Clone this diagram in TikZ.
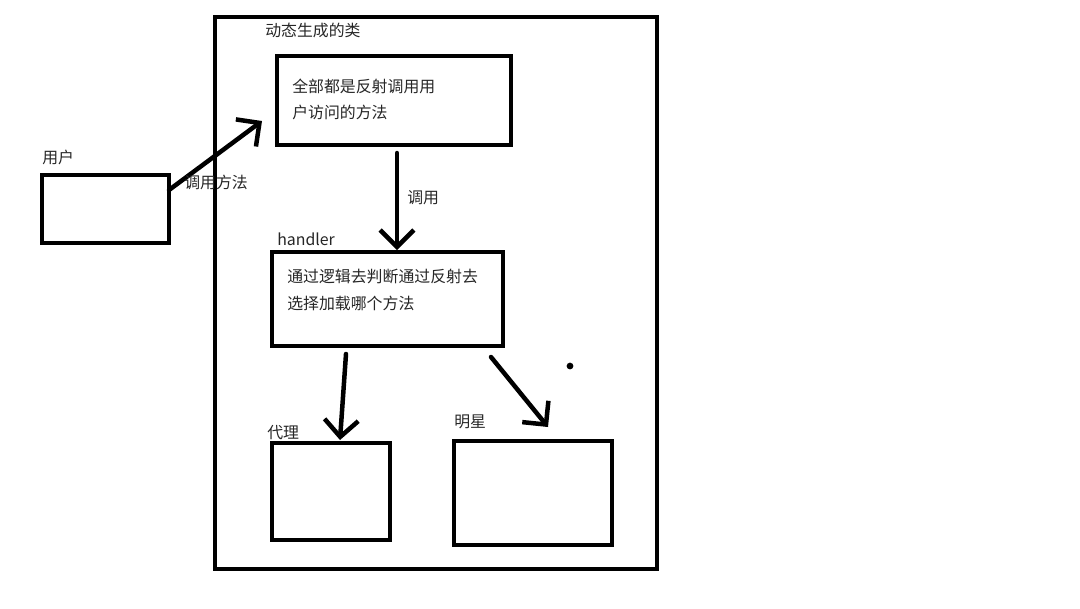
\documentclass[tikz,border=0pt]{standalone}
\usepackage{fontspec}
\setmainfont{Noto Sans CJK SC}
\usetikzlibrary{positioning,arrows.meta}

\begin{document}
\begin{tikzpicture}[
    x=0.025cm, y=-0.025cm,
    frame/.style={draw=black, line width=3.2pt, inner sep=0pt},
    lbl/.style={font=\fontsize{11.3}{13}\selectfont, anchor=west, inner sep=0pt, text=black!85},
    arr/.style={-{Straight Barb[length=12pt, width=24pt]}, line width=3.2pt, line cap=round},
]
\useasboundingbox (0,0) rectangle (1080,608);
% outer frame: the generated class
\node[frame, minimum width=11.05cm, minimum height=13.8cm] (cls) at (436,293) {};
\node[lbl] (clslbl) at (265,30) {动态生成的类};
% user
\node[frame, minimum width=3.175cm, minimum height=1.7cm] (user) at (105.5,209) {};
\node[lbl] (userlbl) at (42,157) {用户};
% reflective method box
\node[frame, minimum width=5.85cm, minimum height=2.225cm] (refl) at (394,100.5) {};
\node[lbl] (refl1) at (292,86) {全部都是反射调用用};
\node[lbl] (refl2) at (292,112) {户访问的方法};
% handler
\node[frame, minimum width=5.775cm, minimum height=2.35cm] (hdl) at (387.5,299) {};
\node[lbl] (hdllbl) at (277,239) {handler};
\node[lbl] (hdl1) at (287,276) {通过逻辑去判断通过反射去};
\node[lbl] (hdl2) at (287,303) {选择加载哪个方法};
% proxy and star
\node[frame, minimum width=2.95cm, minimum height=2.425cm] (proxy) at (331,491.5) {};
\node[lbl] (proxylbl) at (267,433) {代理};
\node[frame, minimum width=3.95cm, minimum height=2.6cm] (star) at (533,493) {};
\node[lbl] (starlbl) at (454,422) {明星};

% arrows
\coordinate (a1s) at (169,190);
\coordinate (a1e) at (262,121);
\coordinate (a2s) at (397,153);
\coordinate (a2e) at (397,250);
\coordinate (a3s) at (346,354);
\coordinate (a3e) at (340,440);
\coordinate (a4s) at (491,357);
\coordinate (a4e) at (548,427);
\draw[arr] (a1s) -- (a1e);
\draw[arr] (a2s) -- (a2e);
\draw[arr] (a3s) -- (a3e);
\draw[arr] (a4s) -- (a4e);
\node[lbl] (a1lbl) at (184,182) {调用方法};
\node[lbl] (a2lbl) at (407,198) {调用};

\fill (570,366) circle (2.4pt);
\end{tikzpicture}
\end{document}
